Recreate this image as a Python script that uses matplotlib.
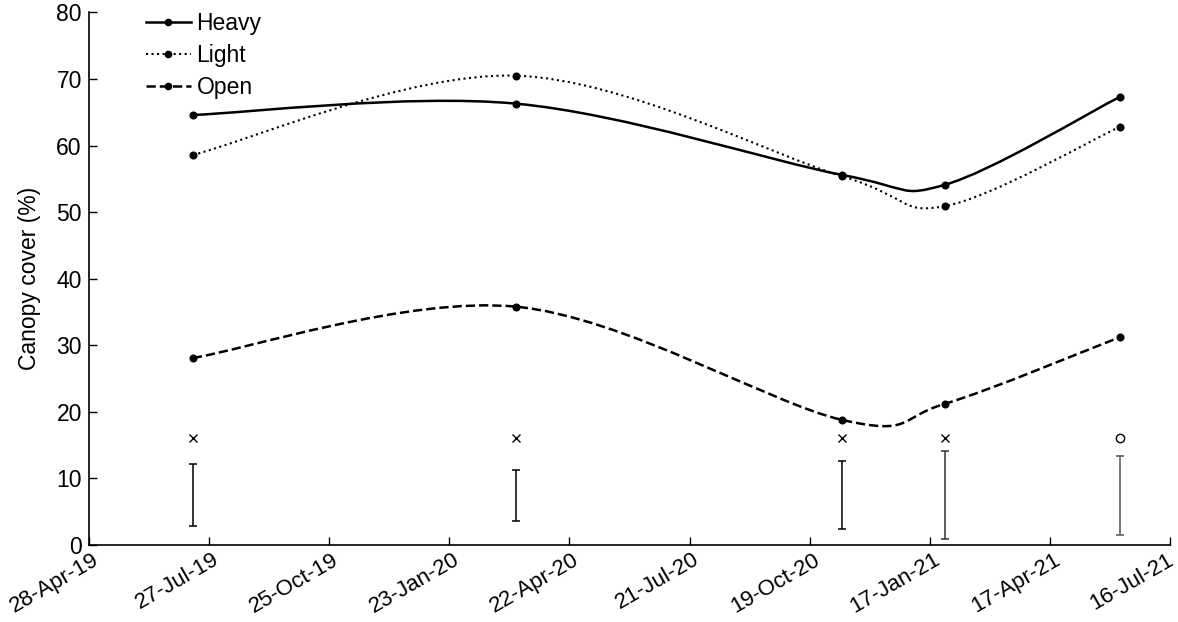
import datetime as dt
import matplotlib
matplotlib.use("Agg")
import matplotlib.pyplot as plt
import matplotlib.dates as mdates
import matplotlib.transforms as mtransforms
from matplotlib.path import Path
from matplotlib.patches import PathPatch
from matplotlib.lines import Line2D
import numpy as np

plt.rcParams['font.family'] = ['Liberation Sans', 'DejaVu Sans']

# sampling dates
dates = [dt.date(2019, 7, 15), dt.date(2020, 3, 13), dt.date(2020, 11, 12),
         dt.date(2021, 1, 28), dt.date(2021, 6, 8)]

heavy = [64.6, 66.3, 55.6, 54.1, 67.3]
light = [58.6, 70.5, 55.4, 50.9, 62.8]
open_ = [28.1, 35.8, 18.8, 21.2, 31.2]

# significance symbols and range bars
sig_y = [16, 16, 16, 16, 16]
sig_marker = ['x', 'x', 'x', 'x', 'o']
bar_low = [2.9, 3.6, 2.4, 0.9, 1.55]
bar_high = [12.2, 11.3, 12.6, 14.1, 13.4]
bar_color = ['black', 'black', 'black', '#333333', '#555555']

tick_start = dt.date(2019, 4, 28)
tick_end = dt.date(2021, 7, 16)


def smooth_path(x, y):
    # Excel-style smoothed line as cubic Bezier segments
    x = np.asarray(x, float)
    y = np.asarray(y, float)
    n = len(x)
    verts = [(x[0], y[0])]
    codes = [Path.MOVETO]
    for i in range(n - 1):
        im1 = max(i - 1, 0)
        ip2 = min(i + 2, n - 1)
        c1 = (x[i] + (x[i + 1] - x[im1]) / 6, y[i] + (y[i + 1] - y[im1]) / 6)
        c2 = (x[i + 1] - (x[ip2] - x[i]) / 6, y[i + 1] - (y[ip2] - y[i]) / 6)
        verts += [c1, c2, (x[i + 1], y[i + 1])]
        codes += [Path.CURVE4] * 3
    return Path(verts, codes)


fig = plt.figure(figsize=(11.78, 6.22), dpi=100)
ax = fig.add_axes([0.0753, 0.1238, 0.9182, 0.8562])

xd = mdates.date2num(dates)
series = [("Heavy", heavy, '-', 1.8), ("Light", light, ':', 1.5), ("Open", open_, '--', 1.8)]
handles = []
for name, vals, ls, lw in series:
    ax.add_patch(PathPatch(smooth_path(xd, vals), facecolor='none', edgecolor='black',
                           linestyle=ls, linewidth=lw))
    ax.plot(xd, vals, linestyle='none', marker='o', markersize=4.8, color='black')
    handles.append(Line2D([], [], color='black', linestyle=ls, linewidth=lw,
                          marker='o', markersize=4.5, label=name))

for i in range(len(dates)):
    ax.errorbar(xd[i], (bar_low[i] + bar_high[i]) / 2,
                yerr=(bar_high[i] - bar_low[i]) / 2, fmt='none',
                ecolor=bar_color[i], elinewidth=1.1, capsize=3, capthick=1.1)
    if sig_marker[i] == 'o':
        ax.plot(xd[i], sig_y[i], marker='o', markersize=6, markerfacecolor='white',
                markeredgecolor='black', markeredgewidth=1.0, linestyle='none')
    else:
        ax.plot(xd[i], sig_y[i], marker='x', markersize=6, color='black',
                markeredgewidth=1.0, linestyle='none')

ax.set_xlim(mdates.date2num(tick_start), mdates.date2num(tick_end))
ax.set_ylim(0, 80)
xticks = np.arange(mdates.date2num(tick_start), mdates.date2num(tick_end) + 1, 90)
ax.set_xticks(xticks)
ax.xaxis.set_major_formatter(mdates.DateFormatter('%d-%b-%y'))
ax.set_yticks(range(0, 81, 10))

for s in ['top', 'right']:
    ax.spines[s].set_visible(False)
for s in ['left', 'bottom']:
    ax.spines[s].set_linewidth(1.2)

ax.tick_params(axis='both', direction='in', length=6, width=1.0, labelsize=16.5)
ax.tick_params(axis='y', pad=5)
ax.tick_params(axis='x', labelsize=16, pad=3)

xlabels = ax.get_xticklabels()
for k, lab in enumerate(xlabels):
    # last label sits at the figure edge, pull it in a little
    dx = 3 if k < len(xlabels) - 1 else -4
    offset = mtransforms.ScaledTranslation(dx / 100, 0, fig.dpi_scale_trans)
    lab.set_rotation(30)
    lab.set_ha('right')
    lab.set_va('top')
    lab.set_rotation_mode('anchor')
    lab.set_transform(lab.get_transform() + offset)

ax.set_ylabel("Canopy cover (%)", fontsize=16.5, labelpad=11)

ax.legend(handles=handles, loc='upper left', bbox_to_anchor=(0.034, 1.04),
          frameon=False, fontsize=16.5, handlelength=1.95, handletextpad=0.25,
          labelspacing=0.39, numpoints=1)

fig.savefig("out.png", dpi=100)
